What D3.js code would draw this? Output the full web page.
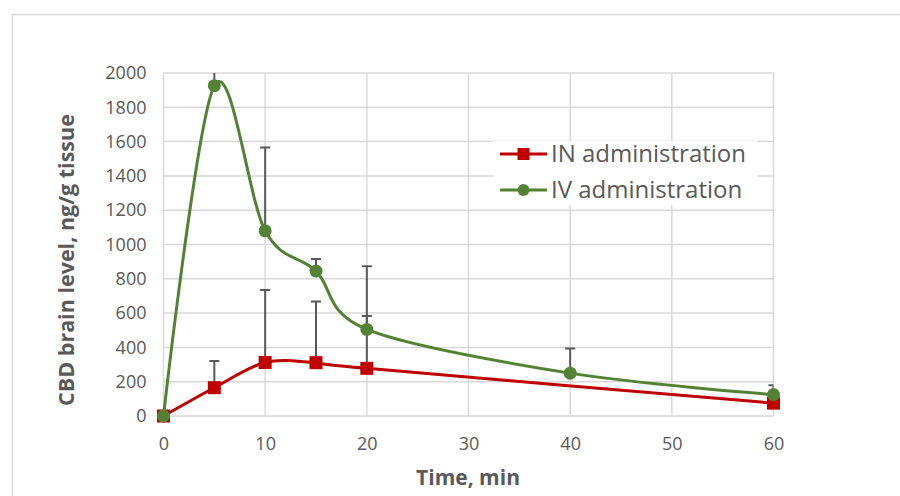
<!DOCTYPE html>
<html>
<head>
<meta charset="utf-8">
<script src="https://cdn.jsdelivr.net/npm/d3@7"></script>
<style>
  body { margin: 0; background: #fff; }
  text { font-family: "Open Sans", sans-serif; fill: #595959; }
</style>
</head>
<body>
<div id="chart"></div>
<script>
const timesIN = [0, 5, 10, 15, 20, 60]
const valuesIN = [0, 165, 312, 311, 278, 75]
const errorsIN = [0, 156, 423, 356, 305, 0]

const timesIV = [0, 5, 10, 15, 20, 40, 60]
const valuesIV = [0, 1926, 1080, 845, 505, 250, 125]
const errorsIV = [0, 224, 485, 70, 368, 143, 55]

const xTicks = [0, 10, 20, 30, 40, 50, 60]
const yTicks = [0, 200, 400, 600, 800, 1000, 1200, 1400, 1600, 1800, 2000]

const seriesNames = ['IN administration', 'IV administration']

;(function() {
  const chartWidth = 900
  const chartHeight = 496
  const margin = { top: 73, left: 163.5 }
  const width = 610
  const height = 343
  const red = '#c00000'
  const green = '#548235'
  const grid = '#d9d9d9'

  const root = d3.select('#chart')
    .append('svg')
      .attr('width', chartWidth)
      .attr('height', chartHeight)

  // outer chart border (only top and left are inside the picture)
  root.append('path')
    .attr('d', 'M12.5,' + chartHeight + 'V14.5H' + chartWidth)
    .attr('fill', 'none')
    .attr('stroke', grid)
    .attr('stroke-width', 1.5)

  const svg = root.append('g')
    .attr('transform', `translate(${margin.left}, ${margin.top})`)

  const x = d3.scaleLinear().domain([0, 60]).range([0, width])
  const y = d3.scaleLinear().domain([0, 2000]).range([height, 0])

  // gridlines
  svg.append('g')
    .selectAll('line')
    .data(yTicks)
    .enter()
    .append('line')
      .attr('x1', 0)
      .attr('x2', width)
      .attr('y1', d => y(d))
      .attr('y2', d => y(d))
      .attr('stroke', grid)
      .attr('stroke-width', 1.5)

  svg.append('g')
    .selectAll('line')
    .data(xTicks)
    .enter()
    .append('line')
      .attr('x1', d => x(d))
      .attr('x2', d => x(d))
      .attr('y1', 0)
      .attr('y2', height)
      .attr('stroke', grid)
      .attr('stroke-width', 1.5)

  // axes (labels only)
  const yAxis = svg.append('g')
    .call(d3.axisLeft(y).tickValues(yTicks).tickFormat(d3.format('d')).tickSize(0).tickPadding(17))
  const xAxis = svg.append('g')
    .attr('transform', `translate(0, ${height})`)
    .call(d3.axisBottom(x).tickValues(xTicks).tickFormat(d3.format('d')).tickSize(0).tickPadding(21))
  ;[xAxis, yAxis].forEach(a => {
    a.select('.domain').remove()
    a.selectAll('text')
      .attr('font-size', 18)
      .attr('font-family', '"Open Sans", sans-serif')
      .style('fill', '#595959')
  })

  // axis titles
  root.append('text')
    .attr('x', 468)
    .attr('y', 485)
    .attr('text-anchor', 'middle')
    .attr('font-size', 21)
    .attr('font-weight', 'bold')
    .text('Time, min')

  root.append('text')
    .attr('transform', 'translate(74, 260) rotate(-90)')
    .attr('text-anchor', 'middle')
    .attr('font-size', 21.5)
    .attr('font-weight', 'bold')
    .text('CBD brain level, ng/g tissue')

  // error bars, clipped to the plot area
  root.append('clipPath')
      .attr('id', 'plot-clip')
    .append('rect')
      .attr('width', width)
      .attr('height', height)

  const errorLayer = svg.append('g').attr('clip-path', 'url(#plot-clip)')

  function drawErrors(times, values, errors) {
    const items = times.map((t, i) => ({ t, v: values[i], e: errors[i] })).filter(d => d.e > 0)
    errorLayer.append('g')
      .selectAll('path')
      .data(items)
      .enter()
      .append('path')
        .attr('d', d => `M${x(d.t)},${y(d.v)}V${y(d.v + d.e)}M${x(d.t) - 5},${y(d.v + d.e)}H${x(d.t) + 5}`)
        .attr('fill', 'none')
        .attr('stroke', '#595959')
        .attr('stroke-width', 2)
  }

  drawErrors(timesIN, valuesIN, errorsIN)
  drawErrors(timesIV, valuesIV, errorsIV)

  const smoothLine = d3.line()
    .x(d => x(d[0]))
    .y(d => y(d[1]))
    .curve(d3.curveCardinal.tension(0))

  // IN series
  svg.append('path')
    .attr('d', smoothLine(timesIN.map((t, i) => [t, valuesIN[i]])))
    .attr('fill', 'none')
    .attr('stroke', red)
    .attr('stroke-width', 3)

  svg.append('g')
    .selectAll('rect')
    .data(timesIN)
    .enter()
    .append('rect')
      .attr('x', d => x(d) - 6.5)
      .attr('y', (d, i) => y(valuesIN[i]) - 6.5)
      .attr('width', 13)
      .attr('height', 13)
      .attr('fill', red)

  // IV series
  svg.append('path')
    .attr('d', smoothLine(timesIV.map((t, i) => [t, valuesIV[i]])))
    .attr('fill', 'none')
    .attr('stroke', green)
    .attr('stroke-width', 3)

  svg.append('g')
    .selectAll('circle')
    .data(timesIV)
    .enter()
    .append('circle')
      .attr('cx', d => x(d))
      .attr('cy', (d, i) => y(valuesIV[i]))
      .attr('r', 6.5)
      .attr('fill', green)

  // legend
  const legend = root.append('g')
  legend.append('rect')
    .attr('x', 493)
    .attr('y', 141)
    .attr('width', 264)
    .attr('height', 64)
    .attr('fill', '#fff')

  const rows = legend.selectAll('g.row')
    .data(seriesNames)
    .enter()
    .append('g')
      .attr('class', 'row')
      .attr('transform', (d, i) => `translate(500, ${154 + i * 36})`)

  rows.append('line')
    .attr('x1', 0)
    .attr('x2', 47)
    .attr('stroke', (d, i) => i === 0 ? red : green)
    .attr('stroke-width', 3)

  rows.filter((d, i) => i === 0)
    .append('rect')
      .attr('x', 17.5)
      .attr('y', -6)
      .attr('width', 12)
      .attr('height', 12)
      .attr('fill', red)

  rows.filter((d, i) => i === 1)
    .append('circle')
      .attr('cx', 23.5)
      .attr('r', 6)
      .attr('fill', green)

  rows.append('text')
    .attr('x', 51)
    .attr('dy', '0.35em')
    .attr('font-size', 24)
    .text(d => d)
})()
</script>
</body>
</html>
